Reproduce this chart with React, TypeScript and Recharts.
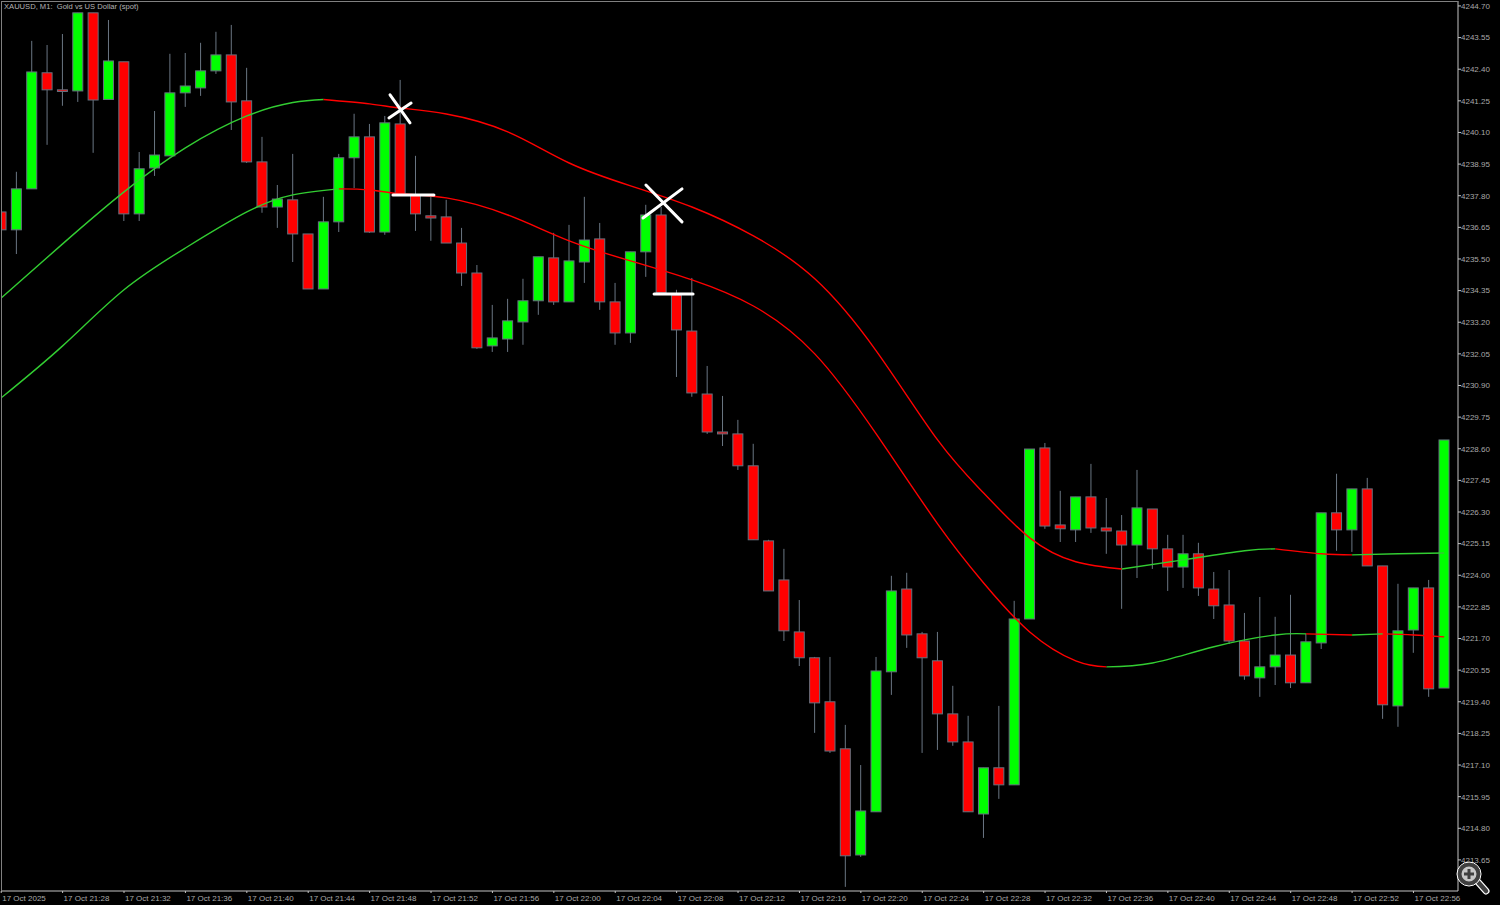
import { Bar, ComposedChart, Line, ReferenceLine, XAxis, YAxis } from 'recharts'

// one minute candles, index 0 is 21:24
const opens = [
  4237.21, 4236.56, 4238.05, 4242.27, 4241.65, 4241.61, 4244.45, 4241.30, 4242.67, 4237.14,
  4238.81, 4239.25, 4241.54, 4241.72, 4242.34, 4242.92, 4241.25, 4239.03, 4237.39, 4237.65,
  4236.41, 4234.41, 4236.85, 4239.18, 4239.94, 4236.48, 4240.41, 4237.83, 4237.07, 4237.03,
  4236.08, 4234.99, 4232.34, 4232.59, 4233.21, 4233.98, 4235.54, 4233.94, 4235.39, 4236.23,
  4233.94, 4232.81, 4235.76, 4237.10, 4234.19, 4232.88, 4230.59, 4229.21, 4229.14, 4227.98,
  4225.25, 4223.83, 4221.94, 4221.00, 4219.40, 4217.69, 4213.83, 4215.40, 4220.49, 4223.50,
  4221.87, 4220.89, 4218.96, 4217.94, 4215.32, 4217.00, 4216.38, 4222.41, 4228.63, 4225.83,
  4225.65, 4226.85, 4225.72, 4225.61, 4225.10, 4226.41, 4224.96, 4224.30, 4224.78, 4223.50,
  4222.92, 4221.61, 4220.27, 4220.67, 4221.10, 4220.09, 4221.54, 4226.27, 4225.65, 4227.14,
  4224.34, 4219.25, 4222.01, 4223.54, 4219.90,
]
const closes = [
  4236.56, 4238.05, 4242.30, 4241.65, 4241.59, 4244.45, 4241.28, 4242.70, 4237.14, 4238.78,
  4239.28, 4241.54, 4241.79, 4242.34, 4242.92, 4241.21, 4239.03, 4237.39, 4237.68, 4236.41,
  4234.41, 4236.85, 4239.18, 4239.94, 4236.48, 4240.45, 4237.83, 4237.14, 4236.99, 4236.08,
  4234.99, 4232.27, 4232.63, 4233.25, 4233.98, 4235.58, 4233.94, 4235.43, 4236.19, 4233.94,
  4232.81, 4235.76, 4237.10, 4234.27, 4232.92, 4230.63, 4229.21, 4229.14, 4227.98, 4225.29,
  4223.43, 4221.98, 4221.00, 4219.36, 4217.61, 4213.80, 4215.43, 4220.52, 4223.43, 4221.83,
  4221.00, 4218.96, 4217.94, 4215.40, 4217.00, 4216.38, 4222.41, 4228.59, 4225.79, 4225.69,
  4226.85, 4225.72, 4225.61, 4225.10, 4226.45, 4224.96, 4224.30, 4224.78, 4223.54, 4222.89,
  4221.61, 4220.34, 4220.67, 4221.10, 4220.09, 4221.58, 4226.27, 4225.65, 4227.14, 4224.34,
  4219.29, 4221.98, 4223.54, 4219.87, 4228.92,
]
const highs = [
  4237.21, 4238.67, 4243.43, 4243.28, 4243.68, 4244.45, 4244.45, 4244.19, 4242.67, 4239.39,
  4240.88, 4242.96, 4242.99, 4243.36, 4243.76, 4244.01, 4242.45, 4239.94, 4238.19, 4239.32,
  4236.41, 4237.76, 4239.32, 4240.78, 4240.41, 4240.70, 4242.01, 4239.25, 4237.76, 4237.65,
  4236.63, 4235.28, 4233.83, 4234.05, 4234.78, 4235.58, 4236.45, 4236.74, 4237.76, 4236.81,
  4234.63, 4235.76, 4237.47, 4237.39, 4234.38, 4234.81, 4231.61, 4230.52, 4229.65, 4228.78,
  4225.29, 4224.96, 4223.10, 4221.03, 4221.03, 4218.56, 4217.10, 4221.03, 4223.98, 4224.09,
  4221.94, 4221.94, 4219.98, 4218.89, 4217.00, 4219.25, 4223.07, 4228.59, 4228.81, 4227.07,
  4226.85, 4228.05, 4226.81, 4226.19, 4227.83, 4226.41, 4225.47, 4225.47, 4225.18, 4224.12,
  4224.19, 4222.63, 4223.21, 4222.49, 4223.29, 4221.87, 4226.27, 4227.69, 4227.14, 4227.54,
  4224.34, 4223.69, 4223.54, 4223.83, 4228.92,
]
const lows = [
  4236.56, 4235.68, 4238.05, 4239.65, 4241.07, 4241.21, 4239.36, 4241.30, 4236.88, 4236.88,
  4238.52, 4239.25, 4241.03, 4241.43, 4242.23, 4240.19, 4238.99, 4237.18, 4236.63, 4235.39,
  4234.41, 4234.41, 4236.48, 4238.08, 4236.45, 4236.38, 4237.83, 4236.52, 4236.16, 4236.08,
  4234.52, 4232.23, 4232.12, 4232.12, 4232.38, 4233.47, 4233.83, 4233.94, 4234.63, 4233.65,
  4232.38, 4232.45, 4234.85, 4234.27, 4231.21, 4230.49, 4229.14, 4228.70, 4227.83, 4225.29,
  4223.43, 4221.61, 4220.70, 4218.27, 4217.54, 4212.67, 4213.76, 4215.40, 4219.65, 4221.36,
  4217.54, 4217.65, 4217.80, 4215.40, 4214.45, 4215.87, 4216.38, 4222.41, 4225.69, 4225.21,
  4225.21, 4225.54, 4224.78, 4222.78, 4223.90, 4224.23, 4223.43, 4223.54, 4223.25, 4222.41,
  4221.50, 4220.20, 4219.58, 4220.01, 4219.90, 4220.09, 4221.32, 4224.89, 4224.85, 4224.34,
  4218.78, 4218.49, 4221.18, 4219.58, 4219.90,
]

// band readings, taken at these candle indexes
const upperIndex = [0, 4, 8, 12, 16, 19, 21, 24, 26, 29, 33, 37, 41, 45, 49, 53, 57, 61, 64, 67, 70, 73, 77, 81, 83, 86, 88, 91, 94]
const upperPrice = [
  4234.08, 4236.05, 4237.94, 4239.54, 4240.70, 4241.19, 4241.30, 4241.14, 4240.99, 4240.77,
  4240.12, 4238.99, 4238.16, 4237.39, 4236.34, 4234.78, 4232.16, 4228.92, 4226.99, 4225.36,
  4224.49, 4224.23, 4224.56, 4224.89, 4224.96, 4224.78, 4224.74, 4224.78, 4224.81,
]
const lowerIndex = [0, 4, 8, 12, 16, 19, 22, 24, 26, 29, 33, 37, 41, 45, 49, 53, 57, 61, 64, 67, 70, 72, 75, 79, 83, 85, 88, 90, 92, 94]
const lowerPrice = [
  4230.45, 4232.34, 4234.38, 4235.90, 4237.21, 4237.83, 4238.05, 4238.01, 4237.87, 4237.72,
  4237.10, 4236.16, 4235.43, 4234.74, 4233.79, 4232.05, 4229.14, 4225.87, 4223.72, 4221.94,
  4220.89, 4220.67, 4220.81, 4221.40, 4221.83, 4221.87, 4221.83, 4221.87, 4221.83, 4221.76,
]

const GREEN = '#00ff00'
const RED = '#ff0000'
const BAND_GREEN = '#32cd32'
const BAND_RED = '#ff0000'

// [from index, to index, colour]
const upperRuns: [number, number, string][] = [
  [0, 21, BAND_GREEN], [21, 73, BAND_RED], [73, 83, BAND_GREEN], [83, 88, BAND_RED], [88, 94, BAND_GREEN],
]
const lowerRuns: [number, number, string][] = [
  [0, 22, BAND_GREEN], [22, 72, BAND_RED], [72, 85, BAND_GREEN], [85, 88, BAND_RED], [88, 90, BAND_GREEN], [90, 94, BAND_RED],
]

const priceTicks = [
  4244.7, 4243.55, 4242.4, 4241.25, 4240.1, 4238.95, 4237.8, 4236.65, 4235.5, 4234.35,
  4233.2, 4232.05, 4230.9, 4229.75, 4228.6, 4227.45, 4226.3, 4225.15, 4224.0, 4222.85,
  4221.7, 4220.55, 4219.4, 4218.25, 4217.1, 4215.95, 4214.8, 4213.65,
]
const timeLabels = [
  '17 Oct 2025', '17 Oct 21:28', '17 Oct 21:32', '17 Oct 21:36', '17 Oct 21:40', '17 Oct 21:44',
  '17 Oct 21:48', '17 Oct 21:52', '17 Oct 21:56', '17 Oct 22:00', '17 Oct 22:04', '17 Oct 22:08',
  '17 Oct 22:12', '17 Oct 22:16', '17 Oct 22:20', '17 Oct 22:24', '17 Oct 22:28', '17 Oct 22:32',
  '17 Oct 22:36', '17 Oct 22:40', '17 Oct 22:44', '17 Oct 22:48', '17 Oct 22:52', '17 Oct 22:56',
]
const timeTicks = timeLabels.map((_, k) => k * 4)

// white crosses and dashes: [index, price, index, price]
const strokes = [
  [25.33, 4241.47, 26.63, 4240.45],
  [25.26, 4240.63, 26.7, 4241.17],
  [25.52, 4237.83, 28.19, 4237.83],
  [42.0, 4238.19, 44.35, 4236.85],
  [41.81, 4236.99, 44.35, 4238.05],
  [42.53, 4234.23, 45.07, 4234.23],
]

const candles = opens.map((open, i) => ({
  i,
  open,
  close: closes[i],
  high: highs[i],
  low: lows[i],
}))

const bandRuns = (index: number[], price: number[], runs: [number, number, string][]) =>
  runs.map(([from, to, color]) => ({
    color,
    points: index
      .map((i, k) => ({ i, price: price[k] }))
      .filter((p) => p.i >= from && p.i <= to),
  }))

const AXIS_FONT = '"Liberation Sans", Arial, sans-serif'

function Candle(props: any) {
  const { x, y, width, height, payload } = props
  const perUnit = height / (payload.high - payload.low)
  const top = y + (payload.high - Math.max(payload.open, payload.close)) * perUnit
  const bottom = y + (payload.high - Math.min(payload.open, payload.close)) * perUnit
  const mid = x + width / 2
  const up = payload.close >= payload.open
  return (
    <g>
      <line x1={mid} x2={mid} y1={y} y2={y + height} stroke="#6a7683" strokeWidth={1} />
      <rect
        x={x + 0.5}
        y={top}
        width={width - 1}
        height={Math.max(bottom - top, 1)}
        fill={up ? GREEN : RED}
        stroke="#65717e"
        strokeWidth={1}
      />
    </g>
  )
}

function TimeTick(props: any) {
  const { x, y, payload } = props
  return (
    <text x={x + 1} y={y + 6} fontSize={8} fontFamily={AXIS_FONT} fill="#a8a8a8" textAnchor="start">
      {timeLabels[payload.value / 4]}
    </text>
  )
}

export default function App() {
  return (
    <div style={{ position: 'absolute', left: 0, top: 0, width: 1500, height: 905, background: '#000', overflow: 'hidden' }}>
      <ComposedChart
        width={1500}
        height={905}
        data={candles}
        margin={{ top: 1, right: 0, bottom: 0, left: 1 }}
        barSize={11}
      >
        <XAxis
          dataKey="i"
          type="number"
          domain={[-0.013, 94.9]}
          ticks={timeTicks}
          interval={0}
          height={14}
          stroke="#c4c4c4"
          tickSize={2}
          tick={<TimeTick />}
          allowDataOverflow
        />
        <YAxis
          orientation="right"
          type="number"
          domain={[4212.52, 4244.88]}
          ticks={priceTicks}
          interval={0}
          width={42}
          stroke="#c4c4c4"
          tickSize={3}
          tickMargin={0}
          tick={{ fill: '#a8a8a8', fontSize: 8, fontFamily: AXIS_FONT }}
          tickFormatter={(v: number) => v.toFixed(2)}
          allowDataOverflow
        />
        <Bar dataKey={(d: any) => [d.low, d.high]} shape={<Candle />} isAnimationActive={false} />
        {bandRuns(upperIndex, upperPrice, upperRuns).map((run, k) => (
          <Line key={`upper-${k}`} data={run.points} dataKey="price" type="natural" stroke={run.color} strokeWidth={1.4} dot={false} activeDot={false} isAnimationActive={false} />
        ))}
        {bandRuns(lowerIndex, lowerPrice, lowerRuns).map((run, k) => (
          <Line key={`lower-${k}`} data={run.points} dataKey="price" type="natural" stroke={run.color} strokeWidth={1.4} dot={false} activeDot={false} isAnimationActive={false} />
        ))}
        {strokes.map(([x1, y1, x2, y2], k) => (
          <ReferenceLine
            key={`mark-${k}`}
            segment={[{ x: x1, y: y1 }, { x: x2, y: y2 }]}
            stroke="#fff"
            strokeWidth={3}
            strokeLinecap="round"
          />
        ))}
      </ComposedChart>
      <div style={{ position: 'absolute', left: 1, top: 1, width: 1457, height: 890, borderTop: '1px solid #808080', borderLeft: '1px solid #808080', boxSizing: 'border-box', pointerEvents: 'none' }} />
      <div style={{ position: 'absolute', left: 4, top: 1, font: `7.6px ${AXIS_FONT}`, lineHeight: '11px', color: '#b4b4b4', whiteSpace: 'pre' }}>
        XAUUSD, M1:  Gold vs US Dollar (spot)
      </div>
      <svg width={40} height={40} viewBox="0 0 40 40" style={{ position: 'absolute', left: 1455, top: 860 }}>
        <line x1={23} y1={22} x2={31} y2={31} stroke="#fff" strokeWidth={7} strokeLinecap="round" />
        <line x1={23} y1={22} x2={31} y2={31} stroke="#404040" strokeWidth={4.5} strokeLinecap="round" />
        <circle cx={14} cy={14} r={9.5} fill="#c8c8c8" stroke="#404040" strokeWidth={4} />
        <circle cx={14} cy={14} r={12} fill="none" stroke="#fff" strokeWidth={1} />
        <path d="M14 9 V19 M9 14 H19" stroke="#404040" strokeWidth={3} />
      </svg>
    </div>
  )
}
